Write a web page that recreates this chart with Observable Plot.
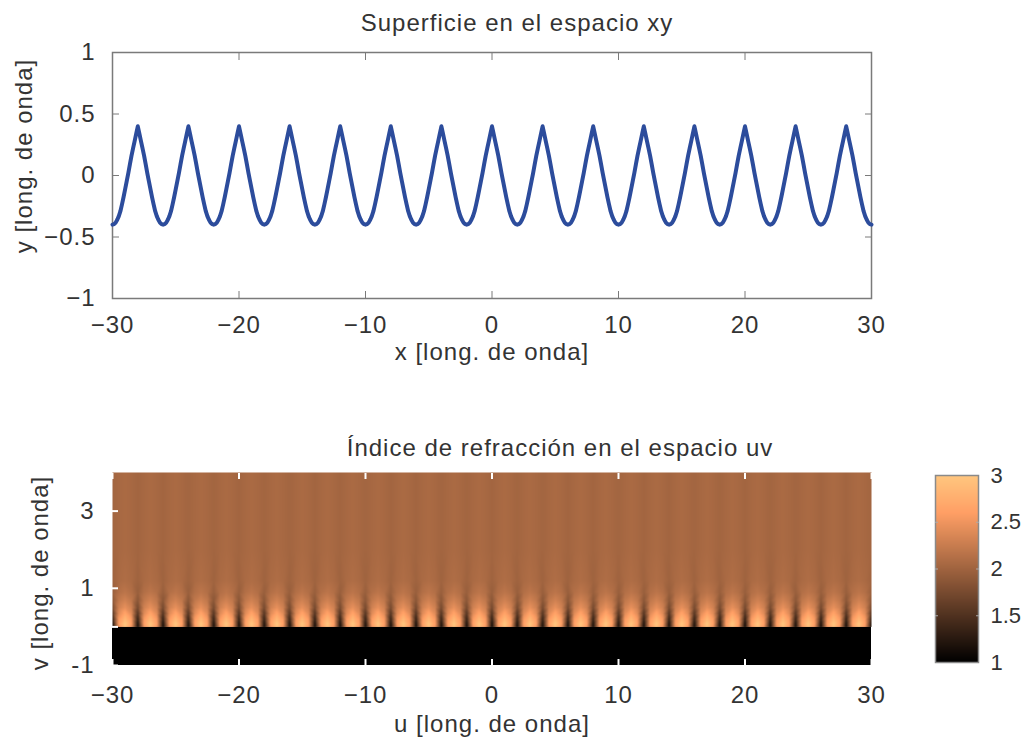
<!DOCTYPE html>
<html>
<head>
<meta charset="utf-8">
<script src="https://cdn.jsdelivr.net/npm/d3@7"></script>
<script src="https://cdn.jsdelivr.net/npm/@observablehq/plot@0.6"></script>
<style>
  html, body { margin: 0; padding: 0; background: #fff; }
  #page { position: relative; width: 1024px; height: 738px; overflow: hidden; font-family: "Liberation Sans", Arial, sans-serif; color: #333; }
  .abs { position: absolute; }
  .lbl { position: absolute; font-size: 24px; letter-spacing: 1px; line-height: 1; white-space: nowrap; color: #333; transform: translate(-50%, -50%); }
  .rot { transform: translate(-50%, -50%) rotate(-90deg); }
</style>
</head>
<body>
<div id="page">
  <div class="lbl" style="left:517px; top:23px;">Superficie en el espacio xy</div>
  <div class="lbl" style="left:492px; top:352px;">x [long. de onda]</div>
  <div class="lbl rot" style="left:24px; top:156px;">y [long. de onda]</div>
  <div class="lbl" style="left:560px; top:448px;">Índice de refracción en el espacio uv</div>
  <div class="lbl" style="left:492px; top:724px;">u [long. de onda]</div>
  <div class="lbl rot" style="left:40px; top:573px;">v [long. de onda]</div>
  <div id="panelTop" class="abs" style="left:0; top:40px;"></div>
  <div id="panelBottom" class="abs" style="left:0; top:460px;"></div>
  <div id="panelCbar" class="abs" style="left:900px; top:460px;"></div>
</div>
<script>
// ---------- data: top panel (surface in xy) ----------
const xTicks = [-30, -20, -10, 0, 10, 20, 30];
const yTicks = [-1, -0.5, 0, 0.5, 1];
const crestX = [-28, -24, -20, -16, -12, -8, -4, 0, 4, 8, 12, 16, 20, 24, 28];
// one half-wave: distance from crest -> surface height
const profileOffset = [0, 0.125, 0.25, 0.375, 0.5, 0.625, 0.75, 0.875, 1.0, 1.125, 1.25, 1.375, 1.5, 1.625, 1.75, 1.875, 2.0];
const profileY = [0.40, 0.34, 0.28, 0.22, 0.16, 0.09, 0.02, -0.045, -0.11, -0.175, -0.235, -0.29, -0.33, -0.36, -0.383, -0.396, -0.40];

// ---------- data: bottom panel (index in uv) ----------
const uTicks = [-30, -20, -10, 0, 10, 20, 30];
const vTicks = [-1, 0, 1, 3];
const vTickLabels = [-1, 1, 3];
const uDomain = [-30, 30];
const vDomain = [-1, 4];
const substrateN = 1;
const brightU = [-29, -27, -25, -23, -21, -19, -17, -15, -13, -11, -9, -7, -5, -3, -1,
                 1, 3, 5, 7, 9, 11, 13, 15, 17, 19, 21, 23, 25, 27, 29];
const columnOffset = [-1, -0.5, 0, 0.5, 1];
const vLevels = [0, 0.08, 0.2, 0.35, 0.5, 0.7, 0.9, 1.2, 2, 4];
const brightN = [2.95, 3.0, 2.85, 2.65, 2.45, 2.3, 2.18, 2.1, 2.07, 2.07];
const midN    = [2.5, 2.6, 2.55, 2.4, 2.3, 2.2, 2.12, 2.07, 2.05, 2.05];
const darkN   = [1.15, 1.2, 1.35, 1.55, 1.75, 1.88, 1.96, 2.0, 2.02, 2.02];

// ---------- data: colorbar ----------
const cbDomain = [1, 3];
const cbTicks = [1, 1.5, 2, 2.5, 3];
const cbInnerTicks = [1.5, 2, 2.5];
const copperStops = [1, 2.6, 3];
const copperColors = ["#000000", "rgb(255,159,101)", "rgb(255,199,127)"];

(function () {
  // ---------- build tables ----------
  const curve = [];
  for (const c of crestX) {
    for (let i = profileOffset.length - 1; i > 0; i--) curve.push({x: c - profileOffset[i], y: profileY[i]});
    for (let i = 0; i < profileOffset.length; i++) curve.push({x: c + profileOffset[i], y: profileY[i]});
  }

  const byOffset = {"0": brightN, "0.5": midN, "1": darkN};
  const seen = new Map();
  for (const c of brightU) {
    for (const o of columnOffset) {
      const u = c + o;
      const arr = byOffset[String(Math.abs(o))];
      vLevels.forEach((v, i) => {
        const key = u + "_" + v;
        if (!seen.has(key)) seen.set(key, {u, v, n: arr[i]});
      });
    }
  }
  const fieldPoints = Array.from(seen.values());
  const substrate = [{u1: uDomain[0], u2: uDomain[1], v1: vDomain[0], v2: 0, n: substrateN}];

  const minus = d => d < 0 ? "\u2212" + Math.abs(d) : String(d);
  const hyphen = d => d < 0 ? "-" + Math.abs(d) : String(d);
  const blank = () => "";
  const font = {fontSize: "24px", fontFamily: "'Liberation Sans', Arial, sans-serif", letterSpacing: "1px", color: "#333", background: "transparent", overflow: "visible"};
  const colorScale = {type: "linear", domain: copperStops, range: copperColors, interpolate: "rgb"};

  // ---------- top panel ----------
  const chartTop = Plot.plot({
    width: 1024, height: 300,
    marginLeft: 112, marginRight: 153, marginTop: 12, marginBottom: 42,
    style: font,
    x: {domain: uDomain},
    y: {domain: [-1, 1]},
    marks: [
      Plot.frame({stroke: "#7a7a7a", strokeWidth: 1.5}),
      Plot.axisX(xTicks, {anchor: "bottom", tickSize: -7, tickFormat: blank, stroke: "#7a7a7a", label: null}),
      Plot.axisX(xTicks, {anchor: "top", tickSize: -7, tickFormat: blank, stroke: "#7a7a7a", label: null}),
      Plot.axisY(yTicks, {anchor: "left", tickSize: -7, tickFormat: blank, stroke: "#7a7a7a", label: null}),
      Plot.axisY(yTicks, {anchor: "right", tickSize: -7, tickFormat: blank, stroke: "#7a7a7a", label: null}),
      Plot.axisX(xTicks, {anchor: "bottom", tickSize: 0, tickPadding: 17, tickFormat: minus, fill: "#333", label: null}),
      Plot.axisY(yTicks, {anchor: "left", tickSize: 0, tickPadding: 17, tickFormat: minus, fill: "#333", label: null}),
      Plot.line(curve, {x: "x", y: "y", stroke: "#2c4c9c", strokeWidth: 4, strokeLinejoin: "round"})
    ]
  });
  document.getElementById("panelTop").appendChild(chartTop);

  // ---------- bottom panel ----------
  const chartBottom = Plot.plot({
    width: 1024, height: 250,
    marginLeft: 112, marginRight: 153, marginTop: 12, marginBottom: 45,
    style: font,
    x: {domain: uDomain},
    y: {domain: vDomain},
    color: colorScale,
    marks: [
      Plot.rect(substrate, {x1: "u1", x2: "u2", y1: "v1", y2: "v2", fill: "n"}),
      Plot.raster(fieldPoints, {x: "u", y: "v", fill: "n", interpolate: "barycentric", x1: uDomain[0], x2: uDomain[1], y1: 0, y2: vDomain[1]}),
      Plot.axisX(uTicks, {anchor: "bottom", tickSize: -6, tickFormat: blank, stroke: "white", strokeWidth: 2, label: null}),
      Plot.axisX(uTicks, {anchor: "top", tickSize: -6, tickFormat: blank, stroke: "white", strokeWidth: 2, label: null}),
      Plot.axisY(vTicks, {anchor: "left", tickSize: -6, tickFormat: blank, stroke: "white", strokeWidth: 2, label: null}),
      Plot.axisX(uTicks, {anchor: "bottom", tickSize: 0, tickPadding: 20, tickFormat: minus, fill: "#333", label: null}),
      Plot.axisY(vTickLabels, {anchor: "left", tickSize: 0, tickPadding: 18, tickFormat: hyphen, fill: "#333", label: null})
    ]
  });
  document.getElementById("panelBottom").appendChild(chartBottom);

  // ---------- colorbar ----------
  const chartCbar = Plot.plot({
    width: 124, height: 230,
    marginLeft: 35, marginRight: 46, marginTop: 15, marginBottom: 28,
    style: Object.assign({}, font, {fontSize: "22px", letterSpacing: "0px"}),
    x: {domain: [0, 1], axis: null},
    y: {domain: cbDomain},
    color: colorScale,
    marks: [
      Plot.raster({fill: (x, y) => y, x1: 0, x2: 1, y1: cbDomain[0], y2: cbDomain[1]}),
      Plot.frame({stroke: "#8a8a8a", strokeWidth: 1.5}),
      Plot.axisY(cbInnerTicks, {anchor: "left", tickSize: -3, tickFormat: blank, stroke: "#aaa", label: null}),
      Plot.axisY(cbInnerTicks, {anchor: "right", tickSize: -3, tickFormat: blank, stroke: "#aaa", label: null}),
      Plot.axisY(cbTicks, {anchor: "right", tickSize: 0, tickPadding: 12, tickFormat: d => String(d), fill: "#333", label: null})
    ]
  });
  document.getElementById("panelCbar").appendChild(chartCbar);
})();
</script>
</body>
</html>
